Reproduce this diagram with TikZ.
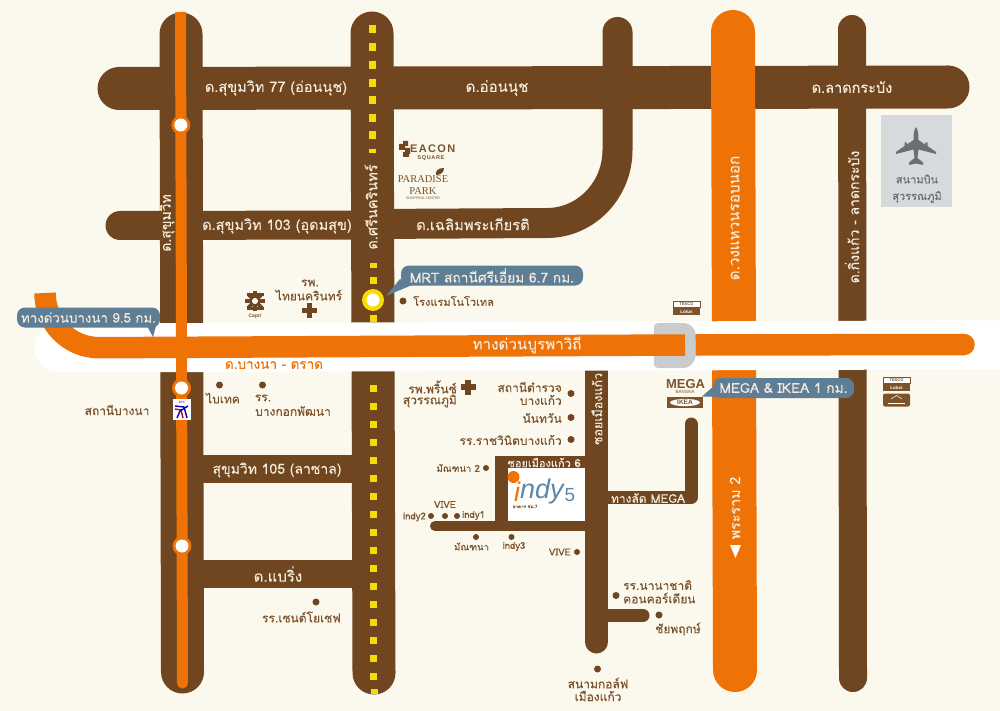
\documentclass[tikz,border=0pt]{standalone}
\usepackage{fontspec}
\setmainfont[Script=Thai,FakeBold=0.25]{Loma}
\newfontfamily\lat{Liberation Sans}
\newfontfamily\latspaced[LetterSpace=12]{Liberation Sans}
\newfontfamily\latser{Liberation Serif}
\definecolor{paper}{HTML}{FBF8EE}
\definecolor{brownroad}{HTML}{6F4620}
\definecolor{brownink}{HTML}{7C532B}
\definecolor{orangeroad}{HTML}{EE7206}
\definecolor{cream}{HTML}{F4E9D8}
\definecolor{pillblue}{HTML}{5E7E96}
\definecolor{railyellow}{HTML}{F6DC00}
\definecolor{greyint}{HTML}{C9CBCD}
\definecolor{airbox}{HTML}{D6DADC}
\definecolor{airink}{HTML}{6A6F72}
\definecolor{indyblue}{HTML}{5F88A8}
\tikzset{
  road/.style={draw=brownroad,line cap=round},
  lab/.style={inner sep=0pt,text=cream,font=\fontsize{14.5}{15}\selectfont},
  ink/.style={inner sep=0pt,text=brownink,font=\fontsize{12}{13}\selectfont},
  tiny/.style={inner sep=0pt,text=brownink,font=\fontsize{9.5}{10}\selectfont},
  dot/.style={circle,fill=brownroad,inner sep=0pt,minimum size=7pt},
  pill/.style={fill=pillblue,rounded corners=8pt,inner sep=0pt,text=cream,minimum height=20pt,font=\fontsize{13.8}{14}\selectfont},
  plusmark/.style={draw=brownroad,line width=5.5pt},
  logo/.style={inner sep=0pt,text=brownink,font=\lat\bfseries},
}
\begin{document}
\begin{tikzpicture}[x=1pt,y=-1pt]
\useasboundingbox (0,0) rectangle (1000,711);
\fill[paper] (0,0) rectangle (1000,711);
% brown roads
\draw[road,line width=43pt] (181,34) -- (182.5,672);
\draw[road,line width=43pt] (372,33) -- (374,673);
\draw[road,line width=43pt] (119,88.5) -- (948,87);
\draw[road,line width=29pt] (120,225.5) -- (372,225);
\draw[road,line width=30pt,line cap=round] (372,224) -- (547,223) .. controls (586,223) and (617.5,190) .. (617.5,150) -- (617.5,32);
\draw[road,line width=28pt] (852,29) -- (853,678);
\draw[draw=brownroad,line width=28pt] (203,469) -- (352,469);
\draw[draw=brownroad,line width=28pt] (203,574) -- (352,574);
% soi network
\draw[draw=brownroad,line width=23pt] (596.5,365) -- (596.5,500);
\draw[road,line width=23pt] (596.5,500) -- (596.5,642);
\draw[draw=brownroad,line width=12pt] (495,462) -- (596,462);
\draw[draw=brownroad,line width=12.5pt] (501.5,456) -- (501.5,526);
\draw[road,line width=10pt] (435,526) -- (596,526);
\draw[road,line width=13pt,line join=round] (605,497.5) -- (691,497.5) -- (691,424);
\draw[road,line width=13pt] (605,615.5) -- (643,615.5);
% yellow rail dashes
\foreach \y in {29,47,65,83,100,118,135}{\fill[railyellow] (368.7,\y-3.5) rectangle ++(7,7.5);}
\fill[railyellow] (369,149) rectangle ++(6.5,4.5);
\fill[railyellow] (369.5,263) rectangle ++(7,4.5);
\foreach \y in {280,318,388,406,424,442,460,478,496,514,532,550,568,586,604,622,640,658,676}{\fill[railyellow] (370,\y-3.5) rectangle ++(7,7.5);}
\fill[railyellow] (370.5,689) rectangle ++(7,4.5);
% ring road
\draw[draw=orangeroad,line width=44pt,line cap=round] (733,32) -- (735,670);
% expressway band
\draw[draw=white,line width=49pt,line cap=round] (59,348) -- (1024,344.7);
% rail line
\draw[draw=orangeroad,line width=11pt] (180.5,12) -- (182.5,683);
\fill[orangeroad] (182.5,683) circle (5.5pt);
% interchange
\fill[greyint,rounded corners=4pt] (654,323) -- (688,323) -- (695.5,330) -- (695.5,360) -- (688,368) -- (654,368) -- cycle;
% expressway
\draw[draw=orangeroad,line width=21.5pt] (45,293) .. controls (45,322) and (68,348) .. (100,347.7) -- (685,345);
\draw[draw=orangeroad,line width=21.5pt] (695.5,345) -- (964,344.5);
\fill[orangeroad] (964,344.5) circle (10.75pt);
% stations
\foreach \n/\x/\y in {a/180.8/125,b/181.5/388,c/182/546}{
  \fill[orangeroad] (\x,\y) circle (9.5pt);
  \fill[white] (\x,\y) circle (6.5pt);
}
\fill[railyellow] (373,300) circle (11pt);
\fill[white] (373,300) circle (6.5pt);
% BTS logo
\fill[white] (172.5,399) rectangle (191,420);
\node[inner sep=0pt,text=blue!70!black,font=\lat\fontsize{3}{3}\selectfont] (btsname) at (181.7,402) {BTS};
\draw[blue!70!black,line width=1.4pt] (175,406) -- (184,407) -- (187,418);
\draw[red!85!black,line width=1.4pt] (175,409) -- (181,410) -- (183,418);
\draw[blue!70!black,line width=1.4pt] (188,406) -- (180,411) -- (177,418);
% road labels
\node[lab] (l1) at (276,88) {ด.สุขุมวิท 77 (อ่อนนุช)};
\node[lab,font=\fontsize{15}{15}\selectfont] (l2) at (497,88) {ด.อ่อนนุช};
\node[lab] (l3) at (852,87) {ด.ลาดกระบัง};
\node[lab] (l4) at (277,226) {ด.สุขุมวิท 103 (อุดมสุข)};
\node[lab,font=\fontsize{14.8}{15}\selectfont] (l5) at (473,224) {ด.เฉลิมพระเกียรติ};
\node[lab,font=\fontsize{14}{15}\selectfont,rotate=90] (l6) at (167,223) {ด.สุขุมวิท};
\node[lab,rotate=90,font=\fontsize{14.5}{15}\selectfont] (l7) at (371,207) {ด.ศรีนครินทร์};
\node[lab,rotate=90,font=\fontsize{15.2}{15}\selectfont] (l8) at (735,218) {ด.วงแหวนรอบนอก};
\node[lab,rotate=90,font=\fontsize{14}{15}\selectfont] (l9) at (852,217) {ด.กิ่งแก้ว - ลาดกระบัง};
\node[lab,rotate=90,font=\fontsize{14.3}{15}\selectfont] (l10) at (735,508) {พระราม 2};
\fill[white] (730,545) -- (741,545) -- (735.5,558) -- cycle;
\node[lab,font=\fontsize{15.2}{15}\selectfont] (l11) at (527,345) {ทางด่วนบูรพาวิถี};
\node[lab,font=\fontsize{14}{15}\selectfont] (l12) at (277,470) {สุขุมวิท 105 (ลาซาล)};
\node[lab,font=\fontsize{15}{15}\selectfont] (l13) at (278,574) {ด.แบริ่ง};
\node[lab,rotate=90,font=\fontsize{12.5}{13}\selectfont] (l14) at (597,409) {ซอยเมืองแก้ว};
\node[lab,font=\fontsize{11}{11}\selectfont] (l15) at (544,462.5) {ซอยเมืองแก้ว 6};
\node[lab,font=\fontsize{12}{12}\selectfont] (l16) at (648,498) {ทางลัด MEGA};
\node[ink,text=orangeroad,font=\fontsize{13.5}{14}\selectfont] (l17) at (274,365) {ด.บางนา - ตราด};
% indy box
\fill[white] (508,468) rectangle (585,521);
\fill[orangeroad] (513.5,477) circle (6pt);
\node[inner sep=0pt,text=orangeroad,font=\lat\itshape\fontsize{27}{27}\selectfont] (indyi) at (517,492) {i};
\node[inner sep=0pt,text=indyblue,font=\lat\itshape\fontsize{27}{27}\selectfont,anchor=west] (indyn) at (520,492) {ndy};
\node[inner sep=0pt,text=indyblue,font=\lat\fontsize{19}{19}\selectfont] (indy5) at (570,495) {5};
\node[inner sep=0pt,text=brownink,font=\fontsize{4.5}{5}\selectfont] (indysub) at (525,506.5) {อาคาร ชม.7};
% callouts
\fill[pillblue] (147,326) -- (156,326) -- (153,337) -- cycle;
\node[pill,minimum width=143pt,font=\fontsize{13.3}{14}\selectfont] (p1) at (88.5,317.5) {ทางด่วนบางนา 9.5 กม.};
\fill[pillblue] (400,279) -- (412,285) -- (386,296) -- cycle;
\node[pill,minimum width=182pt] (p2) at (492,275.5) {MRT สถานีศรีเอี่ยม 6.7 กม.};
\fill[pillblue] (716,384) -- (724,397) -- (702,396.5) -- cycle;
\node[pill,minimum width=141pt] (p3) at (783.5,388) {MEGA \& IKEA 1 กม.};
% airport
\fill[airbox] (881,115) rectangle (952,207);
\fill[airink] (916,127) .. controls (918,130) and (918.5,134) .. (918.5,140) -- (925,144.5) -- (925.5,142.5) -- (927.5,142.5) -- (927.5,146) -- (936,152) -- (936,154) -- (918.5,149.5) -- (917.5,158) -- (923,162.5) -- (923,165) -- (916,163.5) -- (909,165) -- (909,162.5) -- (914.5,158) -- (913.5,149.5) -- (896,154) -- (896,152) -- (904.5,146) -- (904.5,142.5) -- (906.5,142.5) -- (907,144.5) -- (913.5,140) .. controls (913.5,134) and (914,130) .. (916,127) -- cycle;
\node[inner sep=0pt,text=airink,font=\fontsize{11}{11}\selectfont] (air1) at (917,179) {สนามบิน};
\node[inner sep=0pt,text=airink,font=\fontsize{11}{11}\selectfont] (air2) at (917,197) {สุวรรณภูมิ};
% places
\node[ink] (t1) at (117,410) {สถานีบางนา};
\node[dot] (d1) at (219.5,385) {};
\node[ink] (t2) at (223,398) {ไบเทค};
\node[dot] (d2) at (262.5,385) {};
\node[ink] (t3) at (263,398) {รร.};
\node[ink,anchor=west] (t4) at (255,411) {บางกอกพัฒนา};
\node[ink] (t5) at (310,283) {รพ.};
\node[ink] (t6) at (309,295) {ไทยนครินทร์};
\draw[plusmark] (309.5,303) -- (309.5,318) (302,310.5) -- (317,310.5);
% capri logo
\foreach \a in {0,45,...,315}{\draw[brownroad,line width=3.6pt] (255,301)+(\a:3) -- +(\a:10);}
\draw[brownroad,line width=3pt] (246.5,294) -- (263.5,294) (246.5,308) -- (263.5,308);
\fill[paper] (255,301) circle (2.5pt);
\node[tiny,font=\lat\bfseries\fontsize{5}{5}\selectfont] (capri) at (255,316.5) {Capri};
\node[dot] (d3) at (403,301) {};
\node[ink,anchor=west,font=\fontsize{11}{12}\selectfont] (t7) at (413,301) {โรงแรมโนโวเทล};
\node[ink,anchor=east] (t8) at (457,387) {รพ.พริ้นซ์};
\node[ink,anchor=east] (t9) at (457,401) {สุวรรณภูมิ};
\draw[plusmark] (468,379.5) -- (468,394.5) (460.5,387) -- (475.5,387);
\node[ink,anchor=east] (t10) at (562,387) {สถานีตำรวจ};
\node[ink,anchor=east] (t11) at (562,400) {บางแก้ว};
\node[dot] (d4) at (571,393.5) {};
\node[ink,anchor=east] (t12) at (562,418) {นันทวัน};
\node[dot] (d5) at (571,417.5) {};
\node[ink,anchor=east] (t13) at (562,440) {รร.ราชวินิตบางแก้ว};
\node[dot] (d6) at (571,439.5) {};
\node[tiny,anchor=east] (t14) at (480,468) {มัณฑนา 2};
\node[dot,minimum size=6pt] (d7) at (486,468) {};
\node[tiny] (t15) at (445,504.5) {VIVE};
\node[tiny,anchor=east] (t16) at (426,517) {indy2};
\node[dot,minimum size=6pt] (d8) at (431,516) {};
\node[dot,minimum size=6pt] (d9) at (445,516) {};
\node[dot,minimum size=6pt] (d10) at (457,516) {};
\node[tiny,anchor=west] (t17) at (462,515.5) {indy1};
\node[dot,minimum size=6pt] (d11) at (476,537) {};
\node[tiny] (t18) at (471.5,546.5) {มัณฑนา};
\node[dot,minimum size=6pt] (d12) at (511.5,537) {};
\node[tiny] (t19) at (514,546.5) {indy3};
\node[tiny,anchor=east] (t20) at (571,552) {VIVE};
\node[dot,minimum size=6pt] (d13) at (577,552) {};
\node[dot] (d14) at (616,595.5) {};
\node[ink,anchor=west] (t21) at (623,585) {รร.นานาชาติ};
\node[ink,anchor=west] (t22) at (623,598) {คอนคอร์เดียน};
\node[dot] (d15) at (659,615) {};
\node[ink,anchor=west] (t23) at (655,629) {ชัยพฤกษ์};
\node[dot] (d16) at (597.5,669) {};
\node[ink] (t24) at (598,683) {สนามกอล์ฟ};
\node[ink] (t25) at (598,696) {เมืองแก้ว};
\node[dot] (d17) at (316,602) {};
\node[ink,anchor=east] (t26) at (341,617) {รร.เซนต์โยเซฟ};
% logos
\node[logo,anchor=west,font=\latspaced\bfseries\fontsize{11}{12}\selectfont] (b1) at (410,149) {EACON};
\node[logo,font=\latspaced\bfseries\fontsize{5.5}{6}\selectfont] (b2) at (431,158.5) {SQUARE};
\fill[brownroad] (399,144) rectangle (405,150) (405,148) rectangle (410,154) (403,141) rectangle (408,146) (403,152) rectangle (409,157);
\node[logo,font=\latser\fontsize{10.5}{12}\selectfont] (b3) at (423,179.5) {PARADISE};
\node[logo,font=\latser\fontsize{10.5}{12}\selectfont] (b4) at (423,191) {PARK};
\node[logo,font=\lat\fontsize{3.5}{4}\selectfont] (b5) at (423,198.5) {SHOPPING CENTER};
\fill[brownroad] (436,175) .. controls (435,171) and (438,168) .. (444,168) .. controls (444,172) and (441,175) .. (436,175) -- cycle;
% tesco boxes
\node[inner sep=0pt,minimum width=27pt,minimum height=6pt,fill=white,draw=brownink,line width=.6pt,text=brownink,font=\lat\bfseries\fontsize{4}{4}\selectfont] (ta) at (686.5,304) {TESCO};
\node[inner sep=0pt,minimum width=27pt,minimum height=7pt,fill=brownink,text=white,font=\lat\bfseries\fontsize{4.5}{5}\selectfont] (tb) at (686.5,311.5) {Lotus};
\node[inner sep=0pt,minimum width=27pt,minimum height=6pt,fill=white,draw=brownink,line width=.6pt,text=brownink,font=\lat\bfseries\fontsize{4}{4}\selectfont] (tc) at (896.5,380) {TESCO};
\node[inner sep=0pt,minimum width=27pt,minimum height=7pt,fill=brownink,text=white,font=\lat\bfseries\fontsize{4.5}{5}\selectfont] (td) at (896.5,387.5) {Lotus};
\node[inner sep=0pt,minimum width=27pt,minimum height=13pt,fill=brownink,rounded corners=2pt] (te) at (896.5,400) {};
\draw[white,line width=.5pt] (891,399) -- (896.5,395.5) -- (902,399);
\draw[white,line width=.8pt] (888,403) -- (905,403);
% mega ikea
\node[logo,font=\lat\bfseries\fontsize{13}{13}\selectfont] (m1) at (685.5,384) {MEGA};
\node[logo,font=\lat\fontsize{4.5}{5}\selectfont] (m2) at (685,391.5) {BANGNA};
\node[logo,fill=brownink,minimum width=36pt,minimum height=11pt] (m3) at (685,402.5) {};
\fill[white] (685,402.5) ellipse (15pt and 3.6pt);
\node[logo,font=\lat\bfseries\fontsize{6.5}{7}\selectfont] (m4) at (685,402.5) {IKEA};
\end{tikzpicture}
\end{document}
